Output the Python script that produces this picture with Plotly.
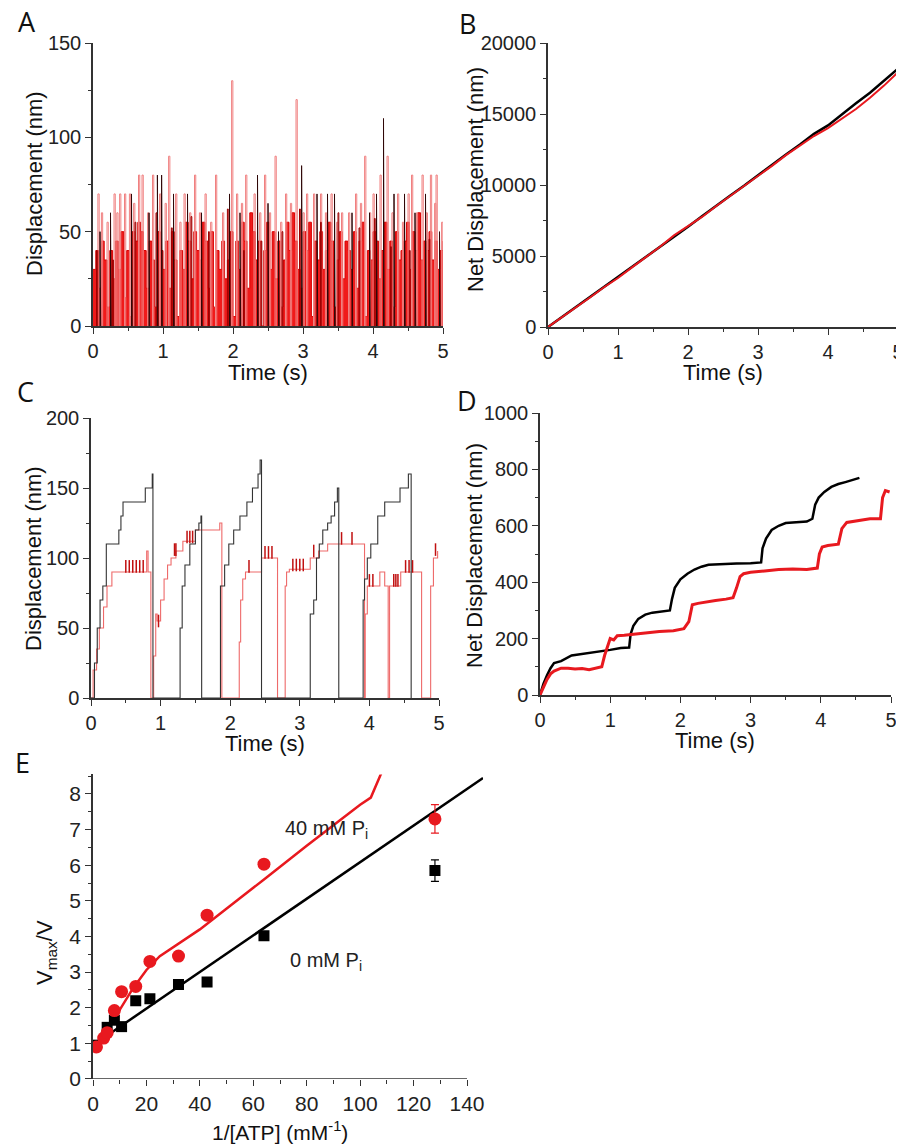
import numpy as np
import plotly.graph_objects as go

# ---------------- Panel A data ----------------
A_red = [30,40,20,45,35,10,40,25,45,30,50,15,40,5,50,45,55,50,40,20,45,35,10,50,40,30,45,20,50,35,5,40,30,55,45,25,50,40,35,55,
         45,20,50,10,40,30,45,25,35,50,5,45,30,55,45,20,60,50,35,45,0,40,55,30,50,25,45,10,35,55,40,60,45,30,20,50,40,55,5,45,
         35,50,30,40,55,45,10,35,50,25,45,40,30,50,20,45,55,5,40,35,50,45,25,40,55,30,45,10,50,35,40,45,55,30,50,40,60,35,45,40,
         50,35,45,30,40,45]
A_pink_t = [0.07,0.2,0.3,0.38,0.45,0.52,0.65,0.7,0.85,0.95,1.08,1.18,1.3,1.45,1.6,1.75,1.98,2.05,2.18,2.3,2.45,2.6,2.75,2.9,
            3.05,3.15,3.25,3.4,3.55,3.75,3.88,4.0,4.1,4.2,4.35,4.5,4.55,4.7,4.82,4.9,4.98,
            0.12,0.34,0.58,0.78,1.03,1.24,1.38,1.52,1.68,1.85,2.12,2.38,2.52,2.68,2.82,3.0,3.32,3.48,3.65,3.82,3.95,4.27,4.42,
            4.62,4.76,4.88]
A_pink_h = [70,55,70,70,70,70,80,80,80,70,90,70,70,80,70,80,130,70,80,70,80,90,70,120,70,70,70,70,60,70,90,70,80,90,70,70,80,
            80,80,80,55,
            60,60,65,60,65,55,60,60,55,60,65,60,60,55,65,60,60,55,60,65,60,60,55,60,60,65]
A_dark_t = [0.05,0.28,0.6,0.9,1.12,1.4,1.65,1.92,2.15,2.4,2.7,2.95,3.25,3.5,3.8,4.02,4.25,4.52,4.8]
A_dark_h = [40,35,55,60,52,58,50,62,40,45,50,62,55,60,52,57,42,40,46]
A_black_t = [0.1,0.25,0.55,0.8,0.92,0.98,1.15,1.35,1.55,1.95,2.1,2.35,2.5,2.65,2.98,3.2,3.35,3.45,3.7,3.95,4.05,4.15,4.3,4.45,
             4.6,4.75,4.95]
A_black_h = [50,60,70,60,80,80,70,70,60,70,60,80,65,50,85,70,70,70,60,60,70,110,70,70,60,70,50]

# ---------------- Panel B data ----------------
B_time = [0,0.2,0.4,0.6,0.8,1.0,1.2,1.4,1.6,1.8,2.0,2.2,2.4,2.6,2.8,3.0,3.2,3.4,3.6,3.8,4.0,4.2,4.4,4.6,4.8,5.0]
B_black = [0,700,1400,2100,2800,3520,4250,4950,5650,6350,7060,7800,8550,9250,9950,10700,11450,12150,12850,13600,14200,
           15000,15750,16500,17350,18200]
B_red = [0,680,1380,2080,2800,3450,4200,4900,5650,6450,7100,7750,8500,9200,9900,10600,11350,12100,12800,13450,14000,14650,
         15350,16150,17000,17950]

# ---------------- Panel C data ----------------
C_black_t = [0.00,0.05,0.09,0.13,0.17,0.22,0.40,0.43,0.46,0.78,0.88,0.89,
             1.28,1.31,1.35,1.42,1.50,1.55,1.58,1.59,
             1.86,1.92,1.98,2.05,2.14,2.24,2.32,2.40,2.43,2.45,
             3.15,3.20,3.24,3.28,3.33,3.40,3.45,3.50,3.54,3.56,
             3.91,3.93,3.97,4.02,4.12,4.22,4.44,4.56,4.60]
C_black_y = [0,25,50,70,80,110,120,130,140,150,160,0,
             50,80,95,110,120,125,130,0,
             80,95,110,120,130,140,150,160,170,0,
             60,70,100,110,120,125,130,140,150,0,
             70,85,100,110,130,140,150,160,0]
C_red_t = [0.00,0.03,0.08,0.12,0.18,0.23,0.30,0.40,0.80,0.82,0.86,
           0.90,0.93,0.95,1.00,1.05,1.10,1.15,1.22,1.32,1.50,1.85,1.88,
           2.13,2.15,2.18,2.22,2.45,2.68,
           2.79,2.81,2.85,3.15,3.27,3.40,3.93,
           3.94,3.97,4.15,4.22,4.27,4.29,4.45,4.75,
           4.88,4.92,4.98]
C_red_y = [0,20,35,50,65,80,90,90,105,90,0,
           30,60,55,70,85,95,100,105,112,120,125,0,
           40,70,85,90,100,0,
           80,90,92,100,105,110,0,
           60,80,90,80,0,80,90,0,
           80,100,105]
C_hash_t = [0.5,0.55,0.6,0.65,0.7,0.75,0.97,1.2,1.22,1.38,1.42,1.46,2.27,2.5,2.55,2.6,2.9,2.95,3.0,3.05,3.2,3.6,3.75,
            4.0,4.05,4.35,4.38,4.41,4.52,4.57,4.62,4.95]
C_hash_y = [94,94,94,94,94,94,55,106,106,115,115,115,94,104,104,104,95,95,95,95,105,114,114,
            84,84,84,84,84,94,94,94,106]

# ---------------- Panel D data ----------------
D_black_t = [0,0.05,0.1,0.15,0.2,0.3,0.45,0.6,0.8,1.0,1.15,1.27,1.29,1.33,1.4,1.5,1.6,1.85,1.88,1.92,2.0,2.1,2.2,2.3,
             2.4,2.6,2.8,3.0,3.15,3.17,3.22,3.3,3.4,3.5,3.6,3.8,3.88,3.92,3.97,4.05,4.15,4.25,4.35,4.45,4.55]
D_black_y = [0,40,70,95,113,120,140,145,152,160,167,168,215,245,270,285,292,300,340,380,410,430,445,455,
             462,465,466,467,470,520,555,585,600,610,612,615,625,675,700,720,738,748,755,762,770]
D_red_t = [0,0.05,0.1,0.15,0.2,0.3,0.4,0.5,0.6,0.7,0.8,0.88,0.92,0.95,1.0,1.05,1.1,1.2,1.3,1.5,1.7,1.9,2.05,2.12,
           2.17,2.25,2.35,2.5,2.65,2.75,2.8,2.85,2.9,3.0,3.2,3.4,3.6,3.8,3.95,3.98,4.02,4.1,4.25,4.3,4.37,4.5,4.7,
           4.85,4.88,4.92,4.98]
D_red_y = [0,30,55,75,85,95,95,92,94,90,95,100,140,160,200,195,210,212,215,220,225,228,235,260,
           320,325,330,335,340,345,380,420,430,435,440,445,447,445,450,500,525,530,535,590,612,618,625,
           625,700,725,720]

# ---------------- Panel E data ----------------
E_black_x = [1, 5.3, 8, 10.7, 16, 21.3, 32, 42.7, 64, 128]
E_black_y = [0.95, 1.45, 1.65, 1.47, 2.2, 2.25, 2.65, 2.72, 4.02, 5.85]
E_black_err = [0, 0, 0, 0, 0, 0, 0, 0, 0.05, 0.3]
E_red_x = [1.3, 4, 5.3, 8, 10.7, 16, 21.3, 32, 42.7, 64, 128]
E_red_y = [0.9, 1.15, 1.3, 1.92, 2.45, 2.6, 3.3, 3.45, 4.6, 6.03, 7.3]
E_red_err = [0, 0, 0, 0, 0, 0, 0, 0, 0, 0, 0.4]
E_fit_black_x = [0, 146]
E_fit_black_y = [0.95, 8.45]
E_fit_red_x = [0, 5, 10, 15, 20, 25, 28, 40, 64, 80, 100, 104, 108]
E_fit_red_y = [0.85, 1.38, 1.94, 2.55, 3.06, 3.45, 3.6, 4.2, 5.6, 6.55, 7.7, 7.9, 8.6]

W, H = 904, 1145
OFF = 8  # page body margin around the plot div
RED = '#e8191f'
FONT = 'Liberation Sans, Arial, sans-serif'


def px_x(p):
    return (p - OFF) / W


def px_y(p):
    return 1 - (p - OFF) / H


def spikes(ts, hs, w):
    xs, ys = [], []
    for t, h in zip(ts, hs):
        xs += [t, t, t + w, t + w, None]
        ys += [0, h, h, 0, None]
    return xs, ys


fig = go.Figure()

# Panel A
tA = np.linspace(0, 5, len(A_red))
fig.add_trace(go.Scatter(x=tA, y=A_red, mode='lines', line_shape='hv', fill='tozeroy',
                         fillcolor='#f01a1a', line=dict(color='#d80000', width=1),
                         xaxis='x', yaxis='y'))
xs, ys = spikes(A_pink_t, A_pink_h, 0.018)
fig.add_trace(go.Scatter(x=xs, y=ys, mode='lines', line=dict(color='#f08080', width=1),
                         xaxis='x', yaxis='y'))
xs, ys = spikes(A_dark_t, A_dark_h, 0.012)
fig.add_trace(go.Scatter(x=xs, y=ys, mode='lines', line=dict(color='#a00000', width=1),
                         xaxis='x', yaxis='y'))
xs, ys = spikes(A_black_t, A_black_h, 0.01)
fig.add_trace(go.Scatter(x=xs, y=ys, mode='lines', line=dict(color='#300808', width=1),
                         xaxis='x', yaxis='y'))

# Panel B
fig.add_trace(go.Scatter(x=B_time, y=B_black, mode='lines', line=dict(color='black', width=2.5),
                         xaxis='x2', yaxis='y2'))
fig.add_trace(go.Scatter(x=B_time, y=B_red, mode='lines', line=dict(color=RED, width=2),
                         xaxis='x2', yaxis='y2'))

# Panel C
fig.add_trace(go.Scatter(x=C_red_t, y=C_red_y, mode='lines', line_shape='hv',
                         line=dict(color='#ee6a6a', width=1.1), xaxis='x3', yaxis='y3'))
fig.add_trace(go.Scatter(x=C_hash_t, y=C_hash_y, mode='markers',
                         marker=dict(symbol='line-ns-open', size=9, color='#c01010',
                                     line=dict(color='#c01010', width=1.5)),
                         xaxis='x3', yaxis='y3'))
fig.add_trace(go.Scatter(x=C_black_t, y=C_black_y, mode='lines', line_shape='hv',
                         line=dict(color='#333333', width=1.1), xaxis='x3', yaxis='y3'))

# Panel D
fig.add_trace(go.Scatter(x=D_black_t, y=D_black_y, mode='lines', line=dict(color='black', width=2.5),
                         xaxis='x4', yaxis='y4'))
fig.add_trace(go.Scatter(x=D_red_t, y=D_red_y, mode='lines', line=dict(color=RED, width=3),
                         xaxis='x4', yaxis='y4'))

# Panel E
fig.add_trace(go.Scatter(x=E_fit_black_x, y=E_fit_black_y, mode='lines', line=dict(color='black', width=2.5),
                         xaxis='x5', yaxis='y5'))
fig.add_trace(go.Scatter(x=E_fit_red_x, y=E_fit_red_y, mode='lines', line=dict(color=RED, width=2.5),
                         xaxis='x5', yaxis='y5'))
fig.add_trace(go.Scatter(x=E_black_x, y=E_black_y, mode='markers',
                         marker=dict(symbol='square', size=11, color='black'),
                         error_y=dict(type='data', array=E_black_err, visible=True, color='black',
                                      thickness=1.2, width=4),
                         xaxis='x5', yaxis='y5'))
fig.add_trace(go.Scatter(x=E_red_x, y=E_red_y, mode='markers',
                         marker=dict(symbol='circle', size=13, color=RED),
                         error_y=dict(type='data', array=E_red_err, visible=True, color=RED,
                                      thickness=1.2, width=4),
                         xaxis='x5', yaxis='y5'))


def axis(dom, rng, dtick, mdtick, anchor, size=20, showline=True, fmt=None):
    d = dict(domain=dom, range=rng, dtick=dtick, tick0=0, anchor=anchor,
             showline=showline, linecolor='#333', linewidth=1.5, mirror=False,
             ticks='outside', ticklen=6, tickwidth=1.3, tickcolor='#333',
             minor=dict(dtick=mdtick, ticks='outside', ticklen=3.5, tickwidth=1.1,
                        tickcolor='#333', showgrid=False),
             showgrid=False, zeroline=False, fixedrange=True, automargin=False,
             tickfont=dict(family=FONT, size=size, color='#222'))
    if fmt:
        d['tickformat'] = fmt
    return d


xA = [px_x(93), px_x(443)]
yA = [px_y(326), px_y(43)]
xB = [px_x(548), px_x(898)]
yB = [px_y(327), px_y(43)]
xC = [px_x(91), px_x(439)]
yC = [px_y(698), px_y(418)]
xD = [px_x(540), px_x(891)]
yD = [px_y(695), px_y(413)]
E_xmax = 146.0
xE = [px_x(93), px_x(93 + E_xmax * (467 - 93) / 140)]
yE = [px_y(1079), px_y(1079 - 8.55 * (1079 - 794) / 8)]

layout = dict(
    width=W, height=H, margin=dict(l=0, r=0, t=0, b=0, pad=0, autoexpand=False),
    paper_bgcolor='white', plot_bgcolor='white', showlegend=False,
    xaxis=axis(xA, [0, 5], 1, 0.5, 'y'),
    yaxis=axis(yA, [0, 150], 50, 25, 'x'),
    xaxis2=axis(xB, [0, 5], 1, 0.5, 'y2'),
    yaxis2=axis(yB, [0, 20000], 5000, 2500, 'x2', fmt='d'),
    xaxis3=axis(xC, [0, 5], 1, 0.5, 'y3'),
    yaxis3=axis(yC, [0, 200], 50, 25, 'x3'),
    xaxis4=axis(xD, [0, 5], 1, 0.5, 'y4'),
    yaxis4=axis(yD, [0, 1000], 200, 100, 'x4'),
    xaxis5=axis(xE, [0, E_xmax], 20, 10, 'y5', size=21, showline=False),
    yaxis5=axis(yE, [0, 8.55], 1, 0.5, 'x5', size=21),
)
layout['xaxis5']['tickvals'] = [0, 20, 40, 60, 80, 100, 120, 140]
layout['xaxis5']['minor'] = dict(tickvals=[10, 30, 50, 70, 90, 110, 130], ticks='outside', ticklen=3.5,
                                 tickwidth=1.1, tickcolor='#333', showgrid=False)
fig.update_layout(**layout)

# x-axis line of panel E ends at 140
fig.add_shape(type='line', xref='x5', yref='y5', x0=0, x1=140, y0=0, y1=0,
              line=dict(color='#333', width=1.5))

ann = []


def text(x, y, s, size, angle=0, family=FONT, xanchor='center'):
    ann.append(dict(x=px_x(x), y=px_y(y), xref='paper', yref='paper', text=s, showarrow=False,
                    textangle=angle, xanchor=xanchor, yanchor='middle',
                    font=dict(family=family, size=size, color='#111')))


LET = 'Open Sans, DejaVu Sans, sans-serif'
text(27, 22, 'A', 27, family=LET)
text(467, 23, 'B', 27, family=LET)
text(25, 392, 'C', 27, family=LET)
text(467, 400, 'D', 27, family=LET)
text(22, 762, 'E', 27, family=LET)

text(268, 372, 'Time (s)', 22)
text(723, 372, 'Time (s)', 22)
text(265, 743, 'Time (s)', 22)
text(715, 740, 'Time (s)', 22)
text(280, 1131, '1/[ATP] (mM<sup>-1</sup>)', 21)

text(35, 184, 'Displacement (nm)', 22, angle=-90)
text(475, 180, 'Net Displacement (nm)', 22, angle=-90)
text(33, 559, 'Displacement (nm)', 22, angle=-90)
text(474, 556, 'Net Displacement (nm)', 22, angle=-90)
text(46, 953, 'V<sub>max</sub>/V', 22, angle=-90)

ann.append(dict(x=71, y=7.0, xref='x5', yref='y5', text='40 mM P<sub>i</sub>', showarrow=False,
                xanchor='left', yanchor='middle', font=dict(family=FONT, size=20, color='#222')))
ann.append(dict(x=73, y=3.3, xref='x5', yref='y5', text='0 mM P<sub>i</sub>', showarrow=False,
                xanchor='left', yanchor='middle', font=dict(family=FONT, size=20, color='#222')))
fig.update_layout(annotations=ann)

fig.write_html('out.html')
